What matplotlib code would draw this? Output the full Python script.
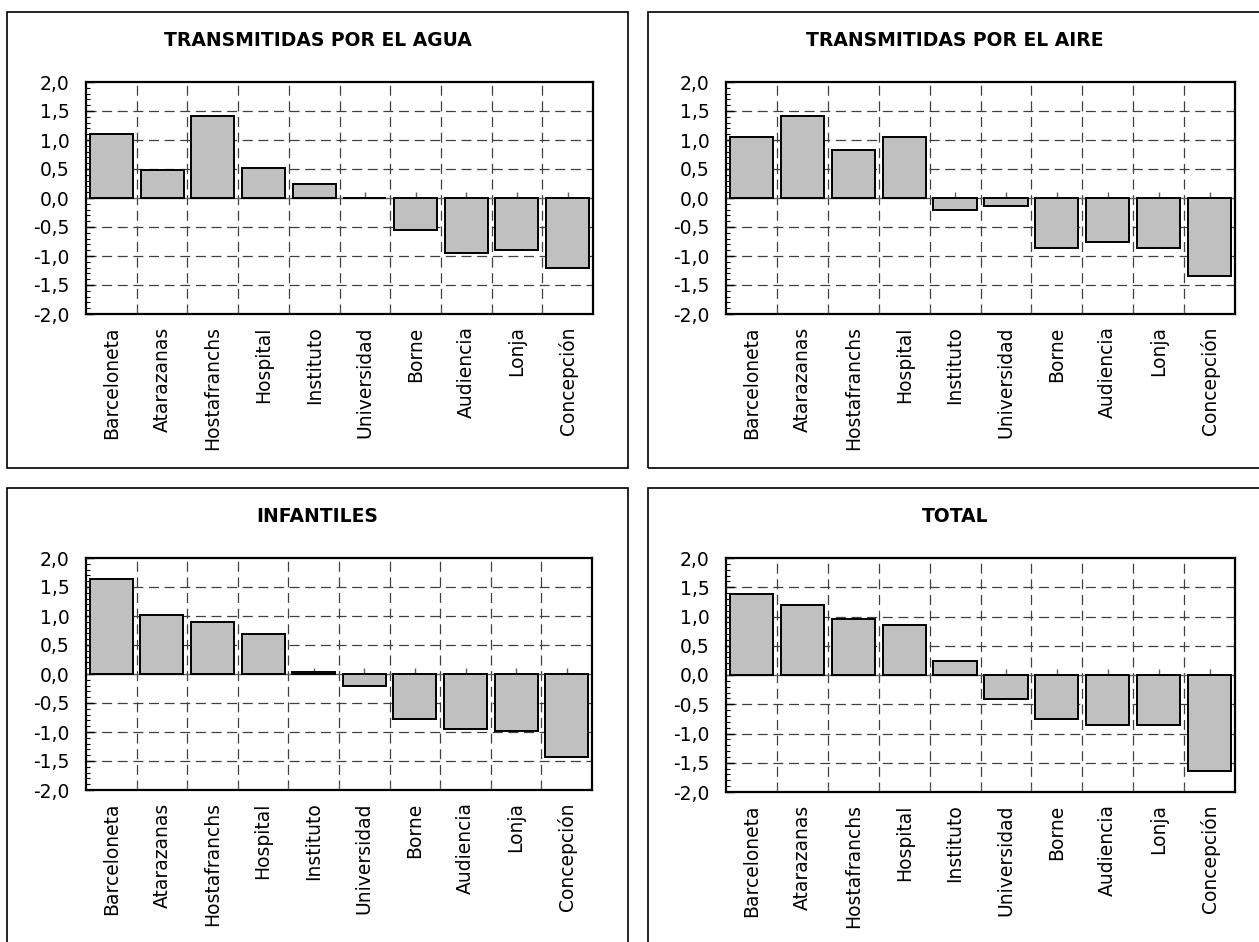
import numpy as np
import matplotlib
matplotlib.use("Agg")
import matplotlib.pyplot as plt
from matplotlib.patches import Rectangle
from matplotlib.ticker import MultipleLocator, FuncFormatter

plt.rcParams['font.family'] = ['DejaVu Sans']

barrios = ["Barceloneta", "Atarazanas", "Hostafranchs", "Hospital", "Instituto",
           "Universidad", "Borne", "Audiencia", "Lonja", "Concepción"]

agua = [1.10, 0.48, 1.41, 0.51, 0.24, 0.0, -0.56, -0.94, -0.90, -1.21]
aire = [1.06, 1.41, 0.82, 1.06, -0.21, -0.14, -0.87, -0.76, -0.87, -1.35]
infantiles = [1.63, 1.01, 0.90, 0.69, 0.03, -0.20, -0.77, -0.95, -0.98, -1.43]
total = [1.39, 1.19, 0.95, 0.85, 0.24, -0.41, -0.75, -0.86, -0.86, -1.64]

titulos = ["TRANSMITIDAS POR EL AGUA", "TRANSMITIDAS POR EL AIRE",
           "INFANTILES", "TOTAL"]
series = [agua, aire, infantiles, total]

W, H = 1259, 942
fig = plt.figure(figsize=(W / 100, H / 100), dpi=100)

# panel frames (pixels: left, top, right, bottom) and plot areas
marcos = [(7, 12, 628, 468), (648, 12, 1262, 468),
          (7, 488, 628, 950), (648, 488, 1262, 950)]
areas = [(86, 82, 593, 314), (726, 82, 1235, 314),
         (86, 558, 592, 790), (726, 558, 1235, 792)]

coma = FuncFormatter(lambda v, p: f"{v:.1f}".replace(".", ","))
x = np.arange(len(barrios))
guion = (0, (8, 4.5))

for (l, t, r, b), (al, at, ar, ab), titulo, vals in zip(marcos, areas, titulos, series):
    fig.add_artist(Rectangle((l / W, 1 - b / H), (r - l) / W, (b - t) / H,
                             transform=fig.transFigure, fill=False,
                             edgecolor="black", linewidth=1.2))
    fig.text((l + r) / 2 / W, 1 - (t + 28) / H, titulo, ha="center", va="center",
             fontsize=13.5, fontweight="bold")

    ax = fig.add_axes([al / W, 1 - ab / H, (ar - al) / W, (ab - at) / H])
    ax.bar(x, vals, width=0.85, color="#C0C0C0", edgecolor="black",
           linewidth=1.4, zorder=3)
    ax.set_xlim(-0.5, len(barrios) - 0.5)
    ax.set_ylim(-2.0, 2.0)

    # dashed grid: horizontal every 0.5, vertical between categories
    for yv in np.arange(-1.5, 2.0, 0.5):
        if abs(yv) > 1e-9:
            ax.axhline(yv, color="#404040", linestyle=guion, linewidth=0.9, zorder=1)
    for xv in np.arange(0.5, len(barrios) - 0.5, 1.0):
        ax.axvline(xv, color="#404040", linestyle=guion, linewidth=0.9, zorder=1)
    ax.axhline(0, color="#606060", linewidth=1.0, zorder=2)
    ax.plot(x, np.zeros(len(x)), linestyle="none", marker=2, markersize=4,
            color="#606060", zorder=2)

    ax.yaxis.set_major_locator(MultipleLocator(0.5))
    ax.yaxis.set_minor_locator(MultipleLocator(0.1))
    ax.yaxis.set_major_formatter(coma)
    ax.tick_params(axis="y", which="major", direction="in", length=6, width=1,
                   labelsize=13.5, pad=12)
    ax.tick_params(axis="y", which="minor", direction="in", length=3, width=0.8)

    ax.set_xticks(np.arange(0.5, len(barrios) - 0.5, 1.0), minor=True)
    ax.set_xticks(x)
    ax.set_xticklabels(barrios, rotation=90, fontsize=13.5)
    ax.tick_params(axis="x", which="major", length=0, pad=9)
    ax.tick_params(axis="x", which="minor", direction="in", length=4, width=0.8,
                   color="#606060")

    for s in ax.spines.values():
        s.set_linewidth(1.6)
        s.set_color("black")

fig.savefig("out.png", dpi=100)
